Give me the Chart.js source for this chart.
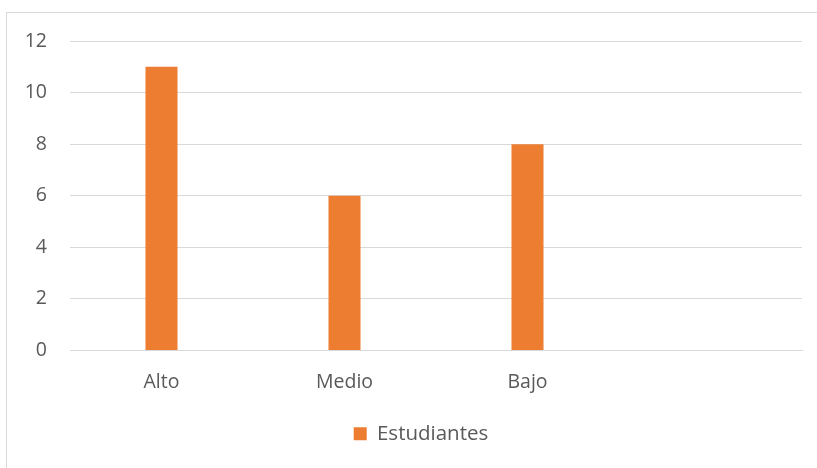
<!DOCTYPE html>
<html>
<head>
<meta charset="utf-8">
<script src="https://cdn.jsdelivr.net/npm/chart.js@4/dist/chart.umd.min.js"></script>
<style>
  html, body { margin: 0; padding: 0; background: #fff; }
  #wrap { position: relative; width: 817px; height: 468px; }
  #frame { position: absolute; left: 6px; top: 12px; right: -2px; bottom: -2px; border-left: 1px solid #d9d9d9; border-top: 1px solid #d9d9d9; }
  canvas { position: absolute; left: 0; top: 0; }
</style>
</head>
<body>
<div id="wrap">
  <div id="frame"></div>
  <canvas id="chart1" width="817" height="468"></canvas>
</div>
<script>
// categories (the 4th one is empty in the source chart)
const categories = ["Alto", "Medio", "Bajo", ""];
const estudiantes = [11, 6, 8, null];
const seriesName = "Estudiantes";
const yTicks = [0, 2, 4, 6, 8, 10, 12];

const textColor = '#595959';
const gridColor = '#d9d9d9';
const fontFamily = "'Open Sans', sans-serif";
const fontSize = 19.5;

//shift the legend a bit right, it is centred on the plot area in the original
const legendShift = {
  id: 'legendShift',
  beforeDraw(chart) {
    const legend = chart.legend;
    if (!legend || legend._shifted) return;
    const orig = legend.draw;
    legend.draw = function () {
      const ctx = chart.ctx;
      ctx.save();
      ctx.translate(20, 0);
      orig.call(this);
      ctx.restore();
    };
    legend._shifted = true;
  }
};

const data = {
  labels: categories,
  datasets: [{
    label: seriesName,
    data: estudiantes,
    backgroundColor: '#ED7D31',
    borderWidth: 0,
    categoryPercentage: 1.0,
    barPercentage: 0.175
  }]
};

const chart1 = new Chart(document.getElementById('chart1'), {
  type: 'bar',
  data: data,
  plugins: [legendShift],
  options: {
    responsive: false,
    animation: false,
    layout: { padding: { left: 0, right: 15, top: 41, bottom: 14 } },
    plugins: {
      tooltip: { enabled: false },
      legend: {
        position: 'bottom',
        labels: {
          boxWidth: 13,
          boxHeight: 13,
          padding: 8,
          color: textColor,
          font: { family: fontFamily, size: 20.5 }
        }
      }
    },
    scales: {
      x: {
        grid: { display: false, drawTicks: false },
        border: { display: true, color: gridColor, width: 1 },
        ticks: { color: textColor, padding: 20, font: { family: fontFamily, size: fontSize } },
        afterFit: (scale) => { scale.height = 65; }
      },
      y: {
        min: 0,
        max: 12,
        afterBuildTicks: (scale) => { scale.ticks = yTicks.map(v => ({ value: v })); },
        grid: { color: gridColor, lineWidth: 1, drawTicks: false },
        border: { display: false },
        ticks: { color: textColor, padding: 23, font: { family: fontFamily, size: fontSize } },
        afterFit: (scale) => { scale.width = 70; }
      }
    }
  }
});
</script>
</body>
</html>
